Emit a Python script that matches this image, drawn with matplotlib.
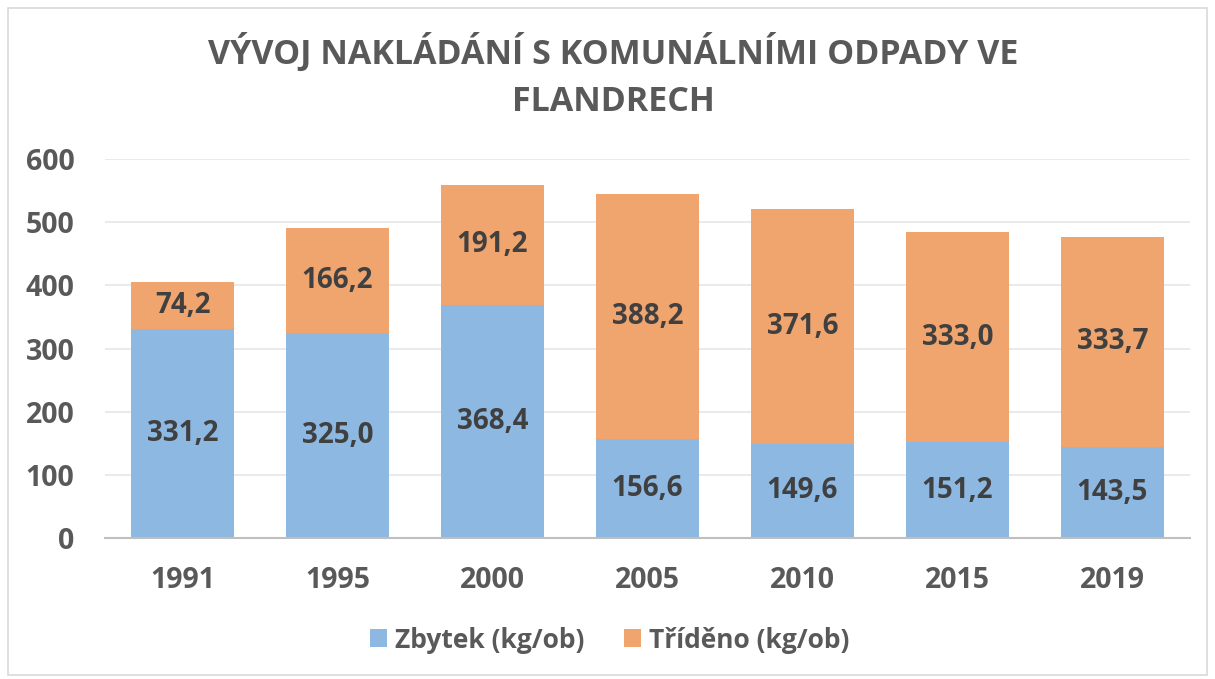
import numpy as np
import matplotlib.pyplot as plt
from matplotlib.patches import Rectangle

years = ["1991", "1995", "2000", "2005", "2010", "2015", "2019"]
zbytek = [331.2, 325.0, 368.4, 156.6, 149.6, 151.2, 143.5]
trideno = [74.2, 166.2, 191.2, 388.2, 371.6, 333.0, 333.7]
series_names = ["Zbytek (kg/ob)", "Tříděno (kg/ob)"]

BLUE = "#8DB8E2"
ORANGE = "#F0A56F"
TXT = "#595959"
LBL = "#404040"
FONT = ["Open Sans", "DejaVu Sans"]

plt.rcParams["font.family"] = FONT
plt.rcParams["font.weight"] = "bold"

fig = plt.figure(figsize=(12.15, 6.79), dpi=100)
fig.patches.append(Rectangle((8 / 1215, 4 / 679), 1 - 16 / 1215, 1 - 12 / 679,
                             transform=fig.transFigure, fill=False,
                             edgecolor="#D9D9D9", linewidth=1.2))
ax = fig.add_axes([105 / 1215, 1 - 538 / 679, (1190 - 105) / 1215, (538 - 159) / 679])

x = np.arange(len(years))
w = 0.67
b1 = ax.bar(x, zbytek, w, color=BLUE, label=series_names[0], zorder=2)
b2 = ax.bar(x, trideno, w, bottom=zbytek, color=ORANGE, label=series_names[1], zorder=2)

fmt = lambda v: f"{v:.1f}".replace(".", ",")
ax.bar_label(b1, labels=[fmt(v) for v in zbytek], label_type="center",
             fontsize=20, color=LBL, fontweight="bold")
ax.bar_label(b2, labels=[fmt(v) for v in trideno], label_type="center",
             fontsize=20, color=LBL, fontweight="bold")

ax.set_xlim(-0.5, len(years) - 0.5)
ax.set_ylim(0, 600)
ax.set_yticks(range(0, 601, 100))
ax.set_xticks(x)
ax.set_xticklabels(years)
ax.grid(axis="y", color="#E6E6E6", linewidth=1.2, zorder=0)
ax.set_axisbelow(True)
for s in ["top", "left", "right"]:
    ax.spines[s].set_visible(False)
ax.spines["bottom"].set_color("#BFBFBF")
ax.spines["bottom"].set_linewidth(1.5)
ax.spines["bottom"].set_zorder(3)
ax.tick_params(axis="both", length=0, labelsize=20.5, labelcolor=TXT)
ax.tick_params(axis="y", pad=22)
ax.tick_params(axis="x", pad=20)

fig.text(0.5045, 1 - 76 / 679, "VÝVOJ NAKLÁDÁNÍ S KOMUNÁLNÍMI ODPADY VE\nFLANDRECH",
         ha="center", va="center", fontsize=24.5, color=TXT, fontweight="bold",
         linespacing=1.5)

fig.legend(handles=[b1, b2], loc="center", bbox_to_anchor=(0.502, 1 - 640 / 679),
           ncol=2, frameon=False, fontsize=19, labelcolor=TXT,
           handlelength=0.65, handleheight=0.65, columnspacing=1.5, handletextpad=0.3)

fig.savefig("out.png", dpi=100)
